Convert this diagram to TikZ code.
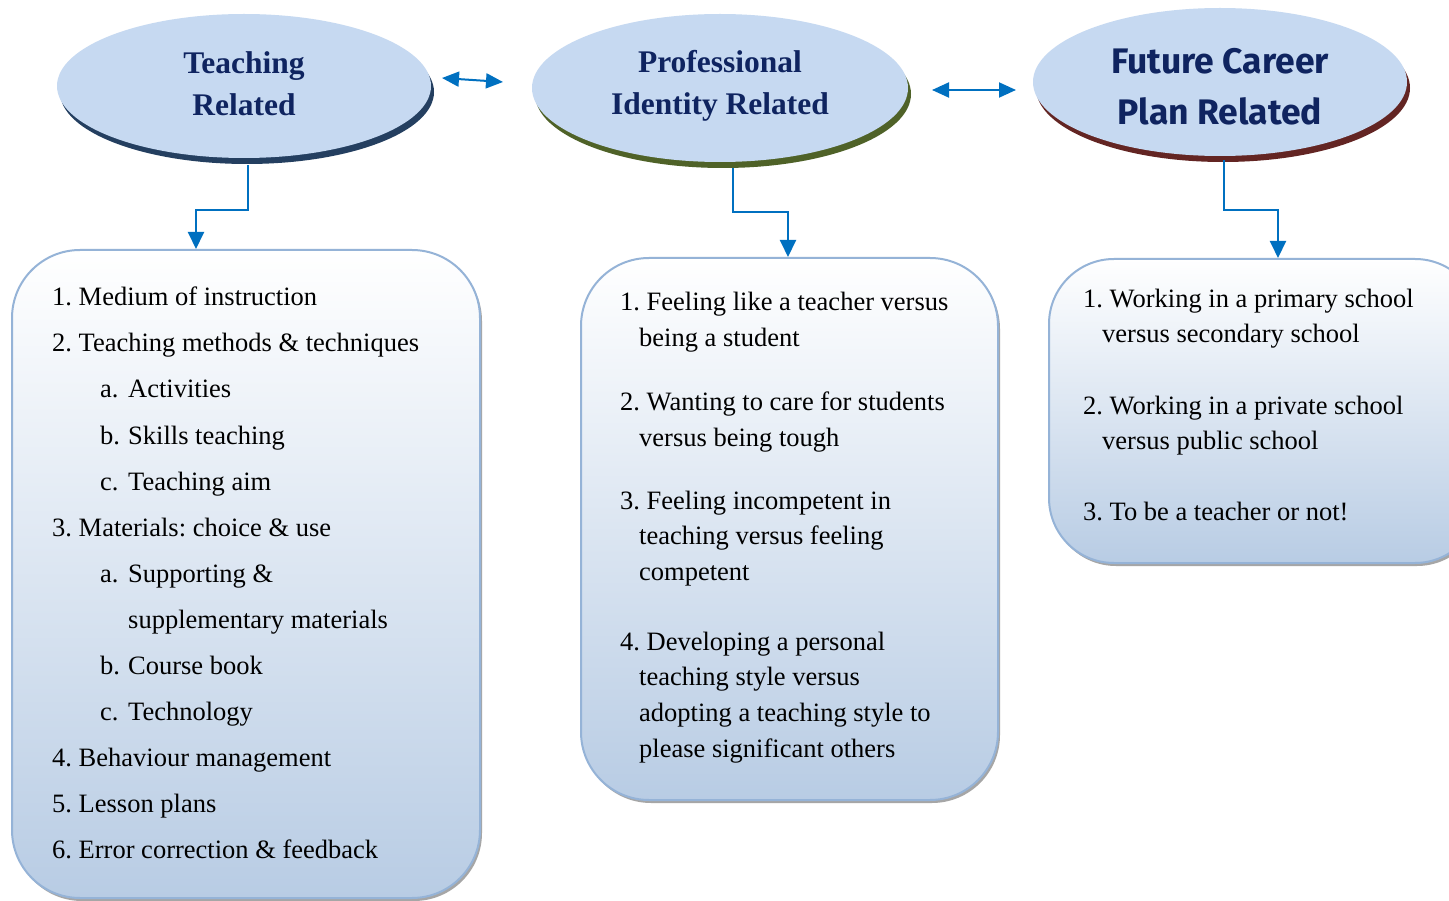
\documentclass[tikz,border=0pt]{standalone}
\usepackage{fontspec}
\setmainfont{Liberation Serif}
\newfontfamily\comicish{Fira Sans}
\usetikzlibrary{shapes.geometric,shadows,arrows.meta}
\definecolor{ellfill}{HTML}{C6D9F1}
\definecolor{navytxt}{HTML}{0F2460}
\definecolor{shA}{HTML}{243F60}
\definecolor{shB}{HTML}{4F6228}
\definecolor{shC}{HTML}{632523}
\definecolor{arrowblue}{HTML}{0070C0}
\definecolor{boxborder}{HTML}{95B3D7}
\definecolor{boxbottom}{HTML}{B8CCE4}
\newcommand{\subl}[1]{\makebox[28pt][l]{#1}}
\frenchspacing
\begin{document}
\begin{tikzpicture}[x=1pt,y=-1pt,
  ell/.style={ellipse, fill=ellfill, inner sep=0pt},
  title/.style={align=center, inner sep=0pt, text=navytxt, font=\fontsize{31.5}{42}\selectfont\bfseries},
  bigbox/.style={rounded corners=68pt, draw=boxborder, line width=2pt,
    top color=white, bottom color=boxbottom, inner sep=0pt,
    drop shadow={shadow xshift=2pt, shadow yshift=-3pt, fill=gray!70, opacity=1}},
  txt/.style={anchor=base west, inner sep=0pt, font=\fontsize{26.5}{35}\selectfont},
  conn/.style={draw=arrowblue, line width=2pt, -{Triangle[length=17pt,width=16pt]}},
  dbl/.style={draw=arrowblue, line width=2pt, {Triangle[length=17pt,width=15pt]}-{Triangle[length=17pt,width=15pt]}}
]
\useasboundingbox (0,0) rectangle (1449,901);
\fill[white] (0,0) rectangle (1449,901);

% ellipses with offset shadows
\fill[shA] (247,92) ellipse [x radius=187pt, y radius=72pt];
\node[ell, minimum width=374pt, minimum height=144pt] (t) at (244,86) {};
\node[title] (tt) at (244,84) {Teaching\\Related};
\fill[shB] (723,94) ellipse [x radius=188pt, y radius=74pt];
\node[ell, minimum width=376pt, minimum height=148pt] (p) at (720,88) {};
\node[title] (pt) at (720,86) {Professional\\Identity Related};
\fill[shC] (1223,88) ellipse [x radius=187pt, y radius=74pt];
\node[ell, minimum width=374pt, minimum height=148pt] (f) at (1220,82) {};
\node[title, font=\fontsize{35.5}{51}\comicish\bfseries] (ft) at (1220,87) {Future Career\\Plan Related};

% boxes
\node[bigbox, minimum width=468pt, minimum height=648pt] (lb) at (246,574) {};
\node[bigbox, minimum width=417pt, minimum height=542pt] (mb) at (789.5,529) {};
\node[bigbox, minimum width=431pt, minimum height=304pt, rounded corners=65pt] (rb) at (1264.5,411) {};

% double arrows
\coordinate (a1) at (442,78);
\coordinate (a2) at (503,82);
\draw[dbl] (a1) -- (a2);
\coordinate (b1) at (932,90);
\coordinate (b2) at (1016,90);
\draw[dbl] (b1) -- (b2);

% connectors
\draw[conn] ([xshift=4pt,yshift=-7pt]t.south) -- ++(0,45) -| ([xshift=-50pt]lb.north);
\draw[conn] ([xshift=13pt,yshift=-6pt]p.south) -- ++(0,44) -| ([xshift=-1.5pt]mb.north);
\draw[conn] ([xshift=4pt,yshift=-4pt]f.south) -- ++(0,50) -| ([xshift=13.5pt]rb.north);

% left list
\node[txt] (l1) at (52,306) {1. Medium of instruction};
\node[txt] (l2) at (52,352) {2. Teaching methods \& techniques};
\node[txt] (l2a) at (100,398) {\subl{a.}Activities};
\node[txt] (l2b) at (100,444) {\subl{b.}Skills teaching};
\node[txt] (l2c) at (100,490) {\subl{c.}Teaching aim};
\node[txt] (l3) at (52,536) {3. Materials: choice \& use};
\node[txt] (l3a) at (100,582) {\subl{a.}Supporting \&};
\node[txt] (l3a2) at (128,628) {supplementary materials};
\node[txt] (l3b) at (100,674) {\subl{b.}Course book};
\node[txt] (l3c) at (100,720) {\subl{c.}Technology};
\node[txt] (l4) at (52,766) {4. Behaviour management};
\node[txt] (l5) at (52,812) {5. Lesson plans};
\node[txt] (l6) at (52,858) {6. Error correction \& feedback};

% middle list
\node[txt] (m1) at (620,311) {1. Feeling like a teacher versus};
\node[txt] (m1b) at (639,347) {being a student};
\node[txt] (m2) at (620,410) {2. Wanting to care for students};
\node[txt] (m2b) at (639,446) {versus being tough};
\node[txt] (m3) at (620,509) {3. Feeling incompetent in};
\node[txt] (m3b) at (639,544) {teaching versus feeling};
\node[txt] (m3c) at (639,580) {competent};
\node[txt] (m4) at (620,650) {4. Developing a personal};
\node[txt] (m4b) at (639,685) {teaching style versus};
\node[txt] (m4c) at (639,721) {adopting a teaching style to};
\node[txt] (m4d) at (639,757) {please significant others};

% right list
\node[txt] (r1) at (1083,308) {1. Working in a primary school};
\node[txt] (r1b) at (1102,343) {versus secondary school};
\node[txt] (r2) at (1083,414) {2. Working in a private school};
\node[txt] (r2b) at (1102,449) {versus public school};
\node[txt] (r3) at (1083,520) {3. To be a teacher or not!};
\end{tikzpicture}
\end{document}
